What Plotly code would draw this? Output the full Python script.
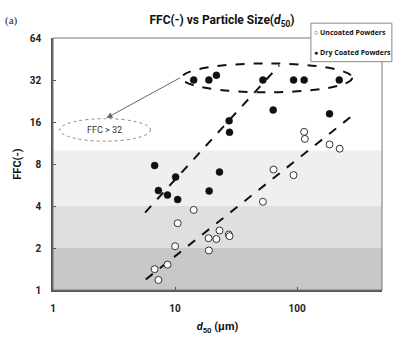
import plotly.graph_objects as go
import numpy as np

# ---- data ----
coated_x = [14.2, 18.9, 21.8, 52.4, 93.4, 114, 221, 63.6, 184, 27.7, 27.9, 6.8, 10.1, 23.1, 7.3, 8.66, 10.5, 19.0]
coated_y = [32, 32, 34.6, 32, 32, 32, 32, 19.5, 18.3, 16.3, 13.5, 7.8, 6.45, 7.0, 5.16, 4.79, 4.45, 5.13]

uncoated_x = [114, 115.6, 184, 222.7, 64, 93.4, 52.4, 14.2, 10.5, 10, 18.8, 21.8, 23.1, 27.5, 27.9, 18.9, 8.66, 6.8, 7.3]
uncoated_y = [13.6, 12.1, 11.05, 10.3, 7.3, 6.66, 4.29, 3.75, 3.01, 2.06, 2.35, 2.32, 2.67, 2.5, 2.43, 1.92, 1.52, 1.41, 1.18]

coated_trend_x = [5.68, 71.2]
coated_trend_y = [3.59, 40.7]
uncoated_trend_x = [5.75, 279]
uncoated_trend_y = [1.19, 17.6]

band_edges = [1, 2, 4, 10]
band_colors = ["#c8c8c8", "#dfdfdf", "#efefef"]

y_ticks = [1, 2, 4, 8, 16, 32, 64]
x_ticks = [1, 10, 100]

legend_labels = ["Uncoated Powders", "Dry Coated Powders"]

# highlighted group (FFC > 32)
ellipse_x = [11.3, 282]
ellipse_y = [26.1, 42.1]
note_ellipse_x = [1.135, 6.29]
note_ellipse_y = [11.66, 16.9]
note_pos = [2.66, 14.0]
arrow_head = [2.74, 17.08]

FONT = "Roboto, 'Liberation Sans Narrow', Arial, sans-serif"

fig = go.Figure()

fig.add_trace(go.Scatter(x=coated_trend_x, y=coated_trend_y, mode="lines",
                         line=dict(color="#111", width=2, dash="dash"), showlegend=False))
fig.add_trace(go.Scatter(x=uncoated_trend_x, y=uncoated_trend_y, mode="lines",
                         line=dict(color="#111", width=2, dash="dash"), showlegend=False))
fig.add_trace(go.Scatter(x=uncoated_x, y=uncoated_y, mode="markers", name=legend_labels[0],
                         marker=dict(symbol="circle", size=7, color="white",
                                     line=dict(color="#333", width=1)), showlegend=False))
fig.add_trace(go.Scatter(x=coated_x, y=coated_y, mode="markers", name=legend_labels[1],
                         marker=dict(symbol="circle", size=7, color="#111",
                                     line=dict(color="#111", width=0.5)), showlegend=False))

shapes = []
for i, c in enumerate(band_colors):
    shapes.append(dict(type="rect", xref="paper", yref="y", x0=0, x1=1,
                       y0=band_edges[i], y1=band_edges[i + 1],
                       fillcolor=c, line=dict(width=0), layer="below"))
# plot border (top/right thin)
shapes.append(dict(type="rect", xref="paper", yref="paper", x0=0, x1=1, y0=0, y1=1,
                   line=dict(color="#777", width=1), layer="above"))
# big dashed ellipse
shapes.append(dict(type="circle", xref="x", yref="y", x0=ellipse_x[0], x1=ellipse_x[1],
                   y0=ellipse_y[0], y1=ellipse_y[1],
                   line=dict(color="#111", width=2, dash="dash"), layer="above"))
# small dotted ellipse
shapes.append(dict(type="circle", xref="x", yref="y", x0=note_ellipse_x[0], x1=note_ellipse_x[1],
                   y0=note_ellipse_y[0], y1=note_ellipse_y[1],
                   line=dict(color="#888", width=1, dash="dot"), layer="above"))
# legend box
shapes.append(dict(type="rect", xref="paper", yref="paper", x0=0.784, x1=1.03, y0=0.906, y1=1.059,
                   fillcolor="white", line=dict(color="#888", width=1), layer="above"))

LEG_FONT = dict(family="'Liberation Sans Narrow', 'Open Sans', Roboto, sans-serif",
                size=7, color="#111", weight="bold")
annotations = [
    dict(x=np.log10(note_pos[0]), y=np.log10(note_pos[1]), xref="x", yref="y",
         text="FFC > 32", showarrow=False,
         font=dict(family="'Liberation Sans Narrow', Roboto, sans-serif", size=9, color="#333")),
    dict(x=np.log10(arrow_head[0]), y=np.log10(arrow_head[1]), xref="x", yref="y",
         text="", showarrow=True, ax=75, ay=-41, arrowhead=2, arrowsize=1.2,
         arrowwidth=1, arrowcolor="#666"),
    dict(x=(312 - 53) / 329, y=(293 - 32) / 255, xref="paper", yref="paper",
         text="○ " + legend_labels[0], showarrow=False, xanchor="left", yanchor="middle",
         font=LEG_FONT),
    dict(x=(312 - 53) / 329, y=(293 - 53) / 255, xref="paper", yref="paper",
         text="● " + legend_labels[1], showarrow=False, xanchor="left", yanchor="middle",
         font=LEG_FONT),
    dict(x=(11 - 53) / 329, y=(293 - 20) / 255, xref="paper", yref="paper",
         text="(a)", showarrow=False, xanchor="center", yanchor="middle",
         font=dict(family="'Liberation Serif', serif", size=11, color="#222")),
]

fig.update_layout(
    width=393, height=342,
    margin=dict(l=53, r=11, t=38, b=49),
    paper_bgcolor="white", plot_bgcolor="white",
    font=dict(family=FONT, color="#222"),
    title=dict(text="FFC(-) vs Particle Size(<i>d</i><sub>50</sub>)",
               x=222 / 393, xanchor="center", y=1 - 20 / 342, yanchor="middle",
               font=dict(family=FONT, size=12, color="#111", weight="bold")),
    shapes=shapes, annotations=annotations, showlegend=False,
)
fig.update_xaxes(type="log", range=[0, np.log10(495)], tickvals=x_ticks,
                 ticktext=[str(v) for v in x_ticks], ticks="inside", ticklen=3,
                 tickcolor="#555", showline=True, linecolor="#555", linewidth=1.5,
                 showgrid=False, zeroline=False, ticklabelstandoff=8,
                 tickfont=dict(size=10, color="#222", weight="bold"),
                 title=dict(text="<i>d</i><sub>50</sub> (μm)", standoff=10,
                            font=dict(size=11, color="#111", weight="bold")))
fig.update_yaxes(type="log", range=[0, np.log10(64)], tickvals=y_ticks,
                 ticktext=[str(v) for v in y_ticks], ticks="inside", ticklen=3,
                 tickcolor="#555", showline=True, linecolor="#555", linewidth=1.5,
                 showgrid=False, zeroline=False, ticklabelstandoff=8,
                 tickfont=dict(size=10, color="#222", weight="bold"),
                 title=dict(text="FFC(-)", standoff=6,
                            font=dict(size=11, color="#111", weight="bold")))

fig.write_html("out.html")
